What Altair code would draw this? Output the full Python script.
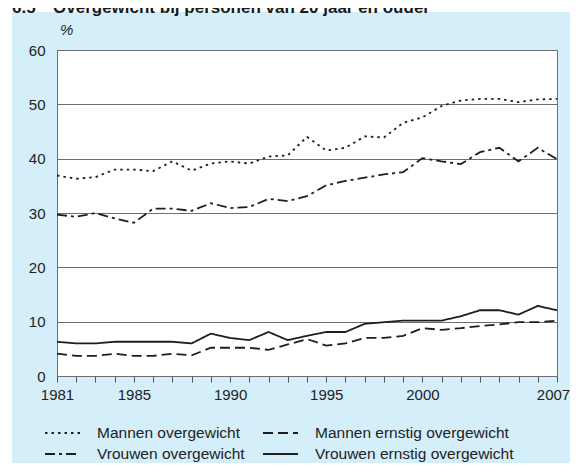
import altair as alt
import pandas as pd

years = list(range(1981, 2008))
series = ["Mannen overgewicht", "Vrouwen overgewicht",
          "Mannen ernstig overgewicht", "Vrouwen ernstig overgewicht"]

mannen_overgewicht = [36.9, 36.3, 36.6, 38.0, 38.0, 37.7, 39.5, 37.8, 39.1, 39.5,
                      39.1, 40.4, 40.6, 44.0, 41.5, 42.0, 44.1, 43.9, 46.6, 47.6,
                      49.7, 50.7, 51.0, 51.0, 50.4, 50.9, 51.0]
vrouwen_overgewicht = [29.7, 29.3, 30.0, 29.0, 28.2, 30.8, 30.8, 30.4, 31.8, 30.9,
                       31.1, 32.6, 32.2, 33.1, 35.1, 35.9, 36.5, 37.1, 37.5, 40.1,
                       39.5, 39.0, 41.2, 42.0, 39.5, 42.0, 39.9]
mannen_ernstig = [4.1, 3.7, 3.7, 4.1, 3.7, 3.7, 4.1, 3.8, 5.2, 5.2,
                  5.2, 4.8, 5.8, 6.8, 5.6, 6.0, 7.0, 7.0, 7.4, 8.8,
                  8.5, 8.8, 9.2, 9.5, 9.9, 9.9, 10.2]
vrouwen_ernstig = [6.3, 6.0, 6.0, 6.3, 6.3, 6.3, 6.3, 6.0, 7.8, 7.0,
                   6.6, 8.1, 6.6, 7.4, 8.1, 8.1, 9.6, 9.9, 10.2, 10.2,
                   10.2, 11.0, 12.1, 12.1, 11.3, 12.9, 12.1]
dashes = [[2.5, 4], [10, 4, 3, 4], [10, 5], [1, 0]]
label_years = [1981, 1985, 1990, 1995, 2000, 2007]
y_ticks = [0, 10, 20, 30, 40, 50, 60]

rows = []
for name, vals in zip(series, [mannen_overgewicht, vrouwen_overgewicht,
                               mannen_ernstig, vrouwen_ernstig]):
    for yr, v in zip(years, vals):
        rows.append({"jaar": yr, "pct": v, "serie": name})
df = pd.DataFrame(rows)
one = pd.DataFrame({"k": [0]})

BLUE = "#d4eefa"
INK = "#1e1e1e"
FONT = "Liberation Sans"

lines = alt.Chart(df).mark_line(strokeWidth=1.8, color=INK, strokeCap="butt").encode(
    x=alt.X("jaar:Q", scale=alt.Scale(domain=[1981, 2007], nice=False, zero=False),
            axis=alt.Axis(values=years, format="d",
                          labelExpr="indexof(" + str(label_years) + ", datum.value) >= 0 ? datum.label : ''",
                          title=None, grid=False, domain=False, ticks=True, tickSize=6,
                          tickColor="#555", labelPadding=5, labelFontSize=15,
                          labelColor="#222", labelOverlap=False, labelFlush=False,
                          labelOffset={"condition": {"test": "datum.value == 2007", "value": -4},
                                       "value": 0})),
    y=alt.Y("pct:Q", scale=alt.Scale(domain=[0, 60], nice=False),
            axis=alt.Axis(values=y_ticks, title=None, grid=True, gridColor="#6e6e6e",
                          domain=False, ticks=False, labelPadding=12, labelFontSize=15,
                          labelColor="#222")),
    strokeDash=alt.StrokeDash("serie:N", sort=series,
                              scale=alt.Scale(domain=series, range=dashes),
                              legend=alt.Legend(orient="none", legendX=-13, legendY=375.5,
                                                columns=2, title=None, symbolType="stroke",
                                                symbolSize=1225, symbolStrokeWidth=2,
                                                symbolStrokeColor=INK, clipHeight=15,
                                                rowPadding=5, columnPadding=17,
                                                labelOffset=16, labelFontSize=15.5,
                                                labelColor="#222", labelLimit=400,
                                                padding=0)),
)

top_strip = alt.Chart(one).mark_rect(color="white").encode(
    x=alt.value(-49), x2=alt.value(530), y=alt.value(-42), y2=alt.value(-38))
left_strip = alt.Chart(one).mark_rect(color="white").encode(
    x=alt.value(-49), x2=alt.value(-45), y=alt.value(-42), y2=alt.value(430))

title_num = alt.Chart(one).mark_text(align="left", baseline="alphabetic", fontSize=17,
                                     fontWeight="bold", color="#1a1a1a").encode(
    x=alt.value(-45), y=alt.value(-37), text=alt.value("6.5"))
title_txt = alt.Chart(one).mark_text(align="left", baseline="alphabetic", fontSize=17,
                                     fontWeight="bold", color="#1a1a1a").encode(
    x=alt.value(-4), y=alt.value(-37),
    text=alt.value("Overgewicht bij personen van 20 jaar en ouder"))
pct = alt.Chart(one).mark_text(align="left", baseline="alphabetic", fontSize=15,
                               fontStyle="italic", color="#222").encode(
    x=alt.value(3), y=alt.value(-15), text=alt.value("%"))

chart = alt.layer(top_strip, left_strip, title_num, title_txt, pct, lines).properties(
    width=500, height=326,
    autosize=alt.AutoSizeParams(type="none"),
    padding={"left": 49, "top": 42, "right": 13, "bottom": 87},
).configure(
    background=BLUE, font=FONT
).configure_view(
    fill="white", stroke="#6e6e6e", strokeWidth=1
)

chart.save("out.html", embed_options={"renderer": "svg", "actions": False})
